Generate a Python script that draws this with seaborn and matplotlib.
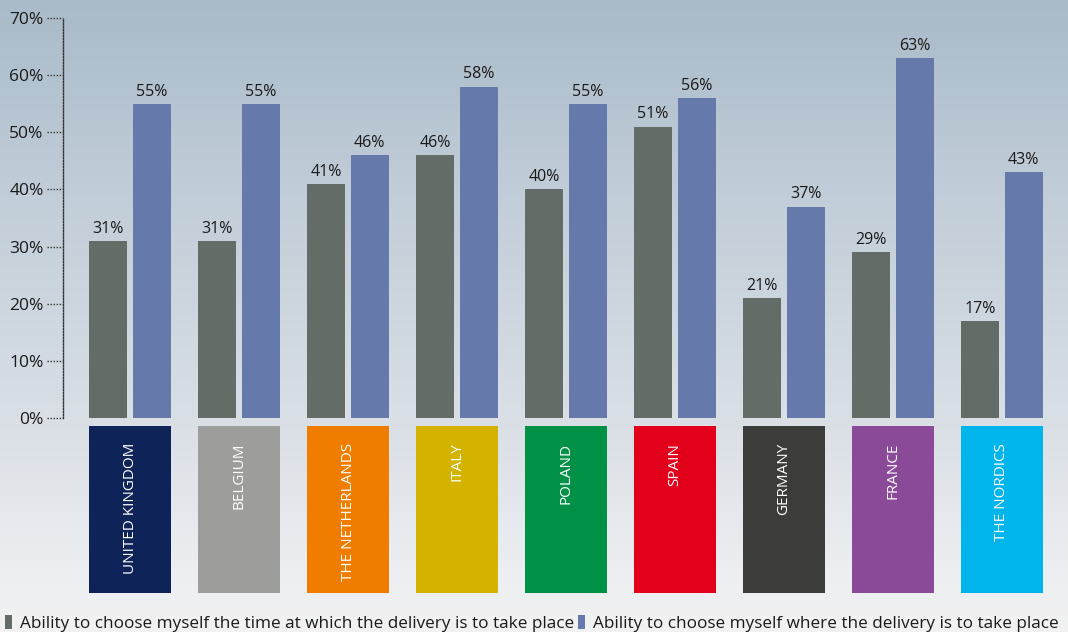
import numpy as np
import pandas as pd
import matplotlib
matplotlib.use("Agg")
import matplotlib.pyplot as plt
import matplotlib.transforms as mtransforms
from matplotlib.colors import LinearSegmentedColormap
import seaborn as sns

# --- data -----------------------------------------------------------------
countries = ["UNITED KINGDOM", "BELGIUM", "THE NETHERLANDS", "ITALY", "POLAND",
             "SPAIN", "GERMANY", "FRANCE", "THE NORDICS"]
time_choice = [31, 31, 41, 46, 40, 51, 21, 29, 17]
place_choice = [55, 55, 46, 58, 55, 56, 37, 63, 43]
series_names = ["Ability to choose myself the time at which the delivery is to take place",
                "Ability to choose myself where the delivery is to take place"]
y_ticks = [0, 10, 20, 30, 40, 50, 60, 70]

country_colors = ["#0e2357", "#9d9d9c", "#f07d00", "#d4b300", "#009147",
                  "#e3001b", "#3c3c3b", "#8b4a97", "#00b5ec"]
series_colors = ["#636c66", "#6679ab"]

df = pd.DataFrame({
    "country": countries * 2,
    "value": time_choice + place_choice,
    "series": [series_names[0]] * len(countries) + [series_names[1]] * len(countries),
})

plt.rcParams["font.family"] = ["Open Sans", "DejaVu Sans"]

W, H = 1068, 632
fig = plt.figure(figsize=(W / 100, H / 100), dpi=100)

# soft sky-like background gradient
bg = fig.add_axes([0, 0, 1, 1])
bg.set_zorder(-10)
sky = LinearSegmentedColormap.from_list(
    "sky", [(0.0, "#a9bac8"), (0.25, "#bdcad6"), (0.5, "#ced7df"),
            (0.7, "#dce1e7"), (0.9, "#eceef1"), (1.0, "#f2f2f2")])
grad = np.linspace(0, 1, 256)[:, None] * np.ones((1, 16))
bg.imshow(grad, cmap=sky, aspect="auto", extent=[0, 1, 0, 1], origin="upper")
bg.axis("off")

px_l, px_r = 63, 1068
xlim = (-0.615, 8.606)

# main bar panel
ax = fig.add_axes([px_l / W, (H - 418) / H, (px_r - px_l) / W, 400 / H])
ax.set_facecolor("none")
sns.barplot(data=df, x="country", y="value", hue="series", order=countries,
            hue_order=series_names, palette=series_colors, saturation=1,
            width=0.8, gap=0.13, ax=ax)
ax.set_xlim(*xlim)
ax.set_ylim(0, 70)
ax.set_xlabel("")
ax.set_ylabel("")
ax.set_xticks([])
ax.set_yticks(y_ticks)
ax.set_yticklabels([f"{t}%" for t in y_ticks], fontsize=12.5, color="#1a1a1a")
ax.tick_params(axis="y", length=0, pad=14)
for side in ["top", "right", "bottom"]:
    ax.spines[side].set_visible(False)
ax.spines["left"].set_linestyle((0, (1, 1.2)))
ax.spines["left"].set_color("#333333")
ax.spines["left"].set_linewidth(1.0)

# dotted tick marks
trans = mtransforms.blended_transform_factory(ax.transAxes, ax.transData)
for t in y_ticks:
    ax.plot([-16 / (px_r - px_l), 0], [t, t], transform=trans, ls=(0, (1, 1.2)),
            color="#333333", lw=1.0, clip_on=False)

for cont in ax.containers:
    ax.bar_label(cont, labels=[f"{v:.0f}%" for v in cont.datavalues],
                 padding=3, fontsize=11.5, color="#1a1a1a")

handles, labels = ax.get_legend_handles_labels()
ax.get_legend().remove()

# coloured country boxes under the bars
bx = fig.add_axes([px_l / W, (H - 593) / H, (px_r - px_l) / W, 167 / H])
bx.set_facecolor("none")
bx.bar(range(len(countries)), [1] * len(countries), width=0.752,
       color=country_colors)
for i, name in enumerate(countries):
    bx.text(i, 0.9, name, rotation=90, ha="center", va="top",
            color="white", fontsize=11)
bx.set_xlim(*xlim)
bx.set_ylim(0, 1)
bx.axis("off")

fig.legend(handles, labels, loc="lower left", bbox_to_anchor=(0.0, -0.008),
           ncol=2, frameon=False, fontsize=12.3, handlelength=0.4,
           handleheight=0.85, handletextpad=0.5, columnspacing=0.2,
           borderaxespad=0.1, borderpad=0.2, labelcolor="#1a1a1a")

fig.savefig("out.png", dpi=100)
